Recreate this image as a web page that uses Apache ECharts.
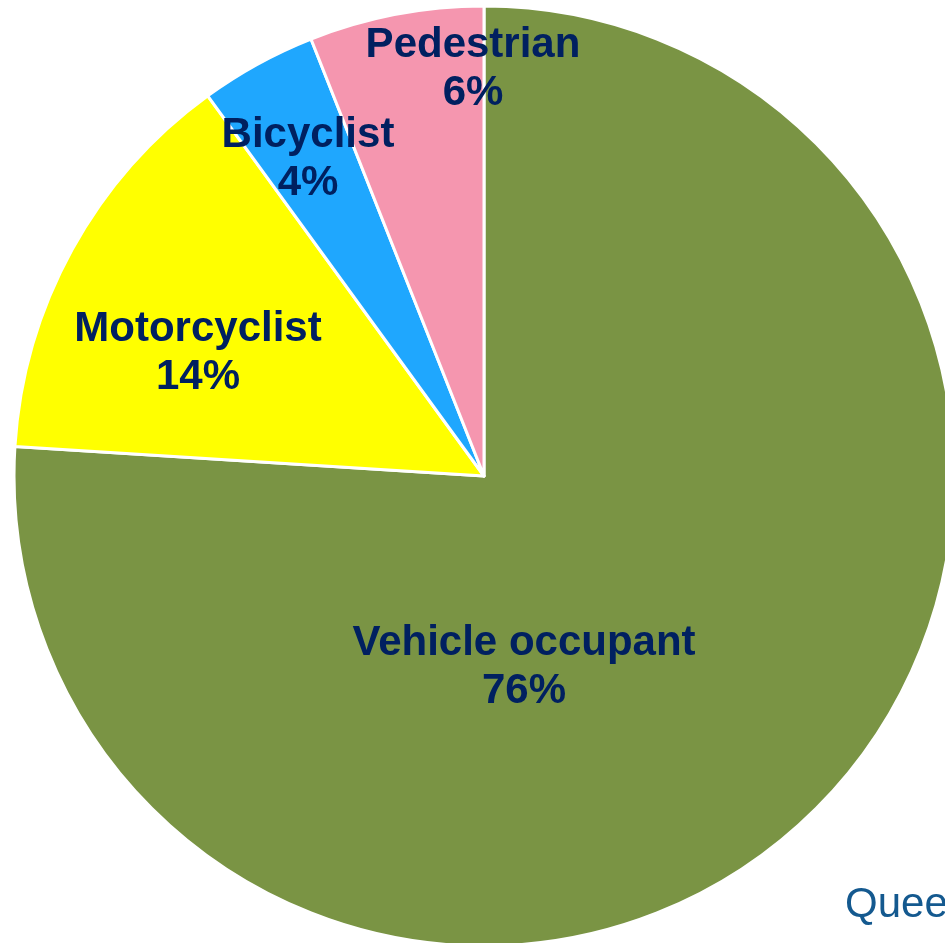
<!DOCTYPE html>
<html>
<head>
<meta charset="utf-8">
<title>Road user type</title>
<script src="https://cdn.jsdelivr.net/npm/echarts@6/dist/echarts.min.js"></script>
<style>
	html, body { margin: 0; padding: 0; background: #fff; }
	#chart { width: 945px; height: 943px; }
</style>
</head>
<body>
<div id="chart"></div>
<script>
// data
const categories = ['Vehicle occupant', 'Motorcyclist', 'Bicyclist', 'Pedestrian']
const shares = [76, 14, 4, 6]
const sliceColors = ['#7A9444', '#FFFF00', '#1FA7FE', '#F596AF']

// label centres (px) for each slice
const labelSpots = [[524, 667], [198, 353], [308, 159], [473, 69]]

;(function () {
	let myChart = echarts.init(document.getElementById('chart'))
	const option = {
		animation: false,
		// footer text, cut off at the right edge like the source
		graphic: [
			{
				type: 'text',
				left: 845,
				top: 884,
				style: {
					text: 'Queensland',
					fill: '#14598F',
					font: '42px "Liberation Sans", Arial, sans-serif'
				}
			}
		],
		series: [
			{
				name: 'Road user',
				type: 'pie',
				center: [484, 476],
				radius: [0, 470],
				startAngle: 90,
				clockwise: true,
				itemStyle: {
					borderColor: '#fff',
					borderWidth: 3
				},
				label: {
					show: true,
					position: 'inside',
					formatter: '{b}\n{c}%',
					color: '#002060',
					fontFamily: '"Liberation Sans", Arial, sans-serif',
					fontWeight: 'bold',
					fontSize: 42,
					lineHeight: 48,
					align: 'center'
				},
				labelLine: { show: false },
				labelLayout: function (params) {
					const p = labelSpots[params.dataIndex]
					return { x: p[0], y: p[1], align: 'center', verticalAlign: 'middle' }
				},
				emphasis: { disabled: true },
				data: categories.map(function (name, i) {
					return { name: name, value: shares[i], itemStyle: { color: sliceColors[i] } }
				})
			}
		]
	}
	myChart.setOption(option)
	window.addEventListener('resize', function () {
		myChart.resize()
	})
})()
</script>
</body>
</html>
